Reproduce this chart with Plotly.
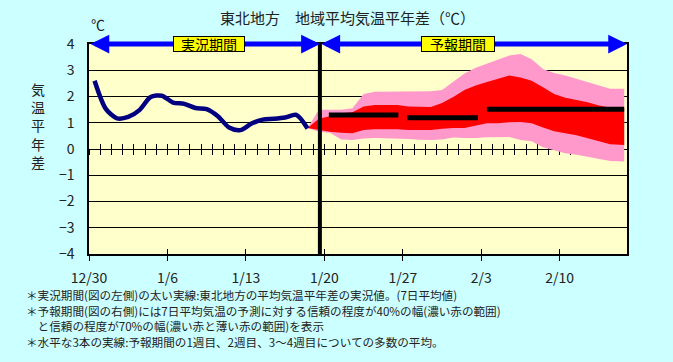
import plotly.graph_objects as go

# ---------------- data ----------------
tick_days = [0, 7, 14, 21, 28, 35, 42]
tick_labels = ["12/30", "1/6", "1/13", "1/20", "1/27", "2/3", "2/10"]

obs_days = [0.5, 1.5, 2.5, 3.5, 4.5, 5.5, 6.5, 7.5, 8.5, 9.5,
            10.5, 11.5, 12.5, 13.5, 14.5, 15.5, 16.5, 17.5, 18.5, 19.5]
obs_vals = [2.60, 1.53, 1.17, 1.22, 1.48, 1.98, 2.03, 1.77, 1.72, 1.56,
            1.52, 1.25, 0.82, 0.72, 0.97, 1.12, 1.15, 1.20, 1.30, 0.78]

fc_days = [19.5, 20.5, 21.5, 22.5, 23.5, 24.5, 25.5, 26.5, 27.5, 28.5,
           29.5, 30.5, 31.5, 32.5, 33.5, 34.5, 35.5, 36.5, 37.5, 38.5,
           39.5, 40.5, 41.5, 42.5, 43.5, 44.5, 45.5, 46.5, 47.75]
pink_top = [0.80, 1.50, 1.50, 1.50, 1.55, 2.10, 2.18, 2.18, 2.18, 2.18,
            2.20, 2.20, 2.25, 2.55, 2.88, 3.10, 3.25, 3.39, 3.56, 3.62,
            3.42, 3.05, 2.90, 2.80, 2.68, 2.55, 2.42, 2.30, 2.30]
red_top = [0.80, 1.15, 1.25, 1.36, 1.40, 1.62, 1.68, 1.68, 1.68, 1.62,
           1.60, 1.60, 1.75, 1.98, 2.25, 2.42, 2.55, 2.69, 2.80, 2.72,
           2.60, 2.35, 2.10, 1.95, 1.86, 1.78, 1.66, 1.58, 1.55]
red_bot = [0.80, 0.72, 0.66, 0.62, 0.60, 0.72, 0.75, 0.75, 0.75, 0.72,
           0.72, 0.72, 0.77, 0.80, 0.80, 0.90, 0.98, 0.98, 1.02, 1.03,
           0.98, 0.82, 0.68, 0.60, 0.52, 0.41, 0.30, 0.18, 0.15]
pink_bot = [0.80, 0.66, 0.62, 0.36, 0.34, 0.40, 0.42, 0.41, 0.41, 0.38,
            0.35, 0.34, 0.36, 0.44, 0.42, 0.42, 0.45, 0.46, 0.46, 0.34,
            0.30, 0.07, -0.05, -0.16, -0.22, -0.30, -0.38, -0.46, -0.48]

week_start = [21.4, 28.4, 35.5]
week_end = [27.6, 34.7, 47.75]
week_mean = [1.30, 1.19, 1.51]

split_day = 20.6
x_range = [0, 48]
y_range = [-4, 4]

FONT = "Noto Sans CJK JP"
TXT = "#222222"

fig = go.Figure()

# bands
fig.add_trace(go.Scatter(x=fc_days, y=pink_bot, mode="lines",
                         line=dict(width=0, color="#FF99CC"), showlegend=False, hoverinfo="skip"))
fig.add_trace(go.Scatter(x=fc_days, y=pink_top, mode="lines", fill="tonexty",
                         fillcolor="#FF99CC", line=dict(width=0, color="#FF99CC"),
                         showlegend=False, hoverinfo="skip"))
fig.add_trace(go.Scatter(x=fc_days, y=red_bot, mode="lines",
                         line=dict(width=0, color="#FF0000"), showlegend=False, hoverinfo="skip"))
fig.add_trace(go.Scatter(x=fc_days, y=red_top, mode="lines", fill="tonexty",
                         fillcolor="#FF0000", line=dict(width=0, color="#FF0000"),
                         showlegend=False, hoverinfo="skip"))

# observed line
fig.add_trace(go.Scatter(x=obs_days, y=obs_vals, mode="lines",
                         line=dict(color="#000080", width=4.5, shape="spline", smoothing=0.8),
                         showlegend=False))

# weekly means
wx, wy = [], []
for s, e, m in zip(week_start, week_end, week_mean):
    wx += [s, e, None]
    wy += [m, m, None]
fig.add_trace(go.Scatter(x=wx, y=wy, mode="lines",
                         line=dict(color="black", width=5), showlegend=False))

# dummy traces for extra axes
for ax in ["x2", "x3", "x4"]:
    fig.add_trace(go.Scatter(x=[None], y=[None], xaxis=ax, showlegend=False, hoverinfo="skip"))

# vertical separator
fig.add_shape(type="line", x0=split_day, x1=split_day, y0=y_range[0], y1=y_range[1],
              xref="x", yref="y", line=dict(color="black", width=4), layer="above")

# blue arrows
for a, b in [(x_range[0], split_day), (split_day, x_range[1])]:
    fig.add_annotation(x=b, y=y_range[1], ax=a, ay=y_range[1], xref="x", yref="y",
                       axref="x", ayref="y", text="", showarrow=True,
                       arrowhead=2, startarrowhead=2, arrowside="end+start",
                       arrowsize=0.75, startarrowsize=0.75, arrowwidth=5, arrowcolor="#0000FF")

# period labels
fig.add_annotation(x=10.7, y=y_range[1], xref="x", yref="y", text="実況期間", showarrow=False,
                   font=dict(family=FONT, size=14, color="black"), bgcolor="#FFFF00",
                   bordercolor="black", borderwidth=1, borderpad=0, width=70, height=14)
fig.add_annotation(x=32.9, y=y_range[1], xref="x", yref="y", text="予報期間", showarrow=False,
                   font=dict(family=FONT, size=14, color="black"), bgcolor="#FFFF00",
                   bordercolor="black", borderwidth=1, borderpad=0, width=72, height=14)

# title and units
fig.add_annotation(x=0.481, y=1.124, xref="paper", yref="paper", showarrow=False,
                   xanchor="center", yanchor="middle",
                   text="東北地方　地域平均気温平年差（℃）",
                   font=dict(family=FONT, size=15, color=TXT))
fig.add_annotation(x=0.016, y=1.095, xref="paper", yref="paper", showarrow=False,
                   xanchor="center", yanchor="middle",
                   text="℃", font=dict(family=FONT, size=14, color=TXT))
fig.add_annotation(x=-0.0957, y=0.614, xref="paper", yref="paper", showarrow=False,
                   xanchor="center", yanchor="middle",
                   text="気<br>温<br>平<br>年<br>差", font=dict(family=FONT, size=14, color=TXT))

# footnotes
notes = [
    "＊実況期間(図の左側)の太い実線:東北地方の平均気温平年差の実況値。(7日平均値)",
    "＊予報期間(図の右側)には7日平均気温の予測に対する信頼の程度が40%の幅(濃い赤の範囲)",
    "　と信頼の程度が70%の幅(濃い赤と薄い赤の範囲)を表示",
    "＊水平な3本の実線:予報期間の1週目、2週目、3～4週目についての多数の平均。",
]
note_y = [-0.195, -0.27, -0.345, -0.42]
for t, yy in zip(notes, note_y):
    fig.add_annotation(x=-0.12, y=yy, xref="paper", yref="paper", showarrow=False,
                       xanchor="left", yanchor="middle", text=t,
                       font=dict(family=FONT, size=11.6, color=TXT))

fig.update_layout(
    width=673, height=362,
    margin=dict(l=89, r=46, t=44, b=108),
    paper_bgcolor="#CCFFFF", plot_bgcolor="#FFFFCC",
    showlegend=False,
    xaxis=dict(range=x_range, tickmode="array", tickvals=tick_days, ticktext=tick_labels,
               ticks="outside", ticklen=5, tickcolor="black", showgrid=False, zeroline=False,
               showline=True, linecolor="black", linewidth=1.5, mirror=True,
               tickfont=dict(family=FONT, size=14, color=TXT), ticklabelstandoff=5),
    xaxis2=dict(range=x_range, overlaying="x", anchor="y", tickmode="array", tickvals=tick_days,
                ticks="inside", ticklen=5, tickcolor="black", showticklabels=False,
                showgrid=False, zeroline=False, showline=False),
    xaxis3=dict(range=x_range, overlaying="x", anchor="free", position=0.5, dtick=1, tick0=0,
                ticks="outside", ticklen=5, tickcolor="black", showticklabels=False,
                showgrid=False, zeroline=False, showline=False, layer="below traces"),
    xaxis4=dict(range=x_range, overlaying="x", anchor="free", position=0.5, dtick=1, tick0=0,
                ticks="inside", ticklen=5, tickcolor="black", showticklabels=False,
                showgrid=False, zeroline=False, showline=False, layer="below traces"),
    yaxis=dict(range=y_range, dtick=1, showgrid=True, gridcolor="black", gridwidth=1,
               zeroline=True, zerolinecolor="black", zerolinewidth=1,
               showline=True, linecolor="black", linewidth=1.5, mirror=True, ticks="",
               tickfont=dict(family=FONT, size=14, color=TXT), ticklabelstandoff=10),
)

fig.write_html("out.html", config={"displayModeBar": False},
               post_script="document.body.style.margin='0';document.body.style.overflow='hidden';")
